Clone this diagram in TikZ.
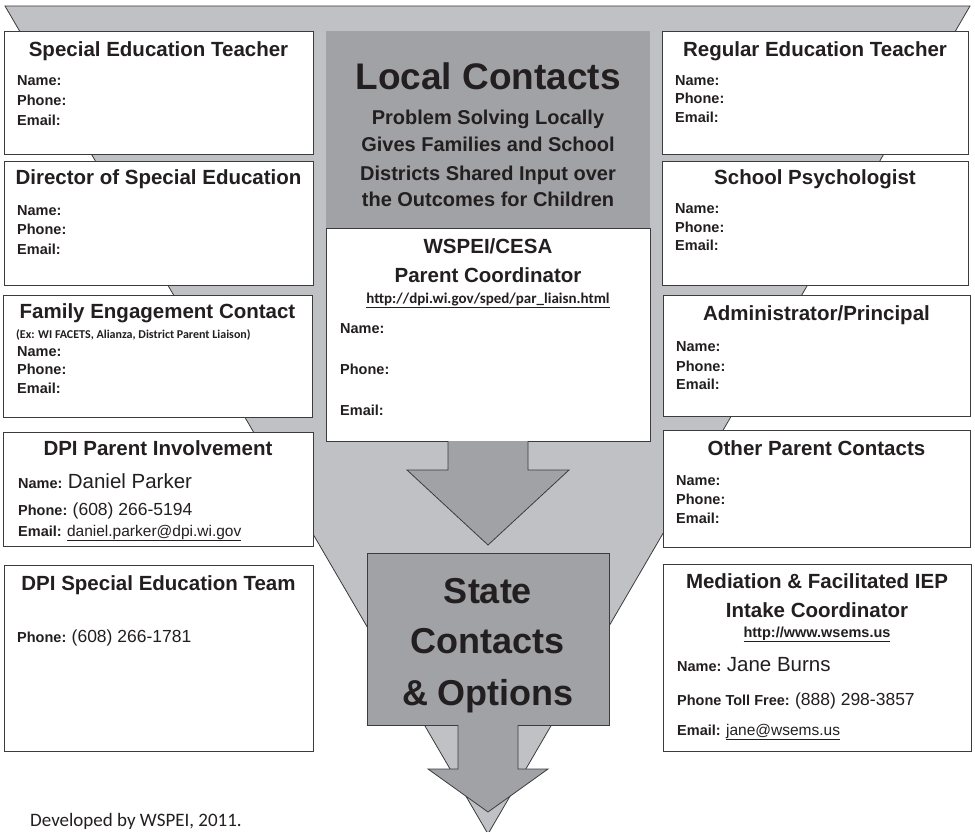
\documentclass[tikz,border=0pt]{standalone}
\usepackage{fontspec}
\setmainfont{Liberation Sans}
\newfontfamily\calibri{Carlito}
\usetikzlibrary{calc}

\definecolor{funnelgray}{RGB}{192,193,196}
\definecolor{localgray}{RGB}{161,162,165}
\definecolor{boxline}{RGB}{60,60,62}
\definecolor{ink}{RGB}{35,31,32}

\newcommand{\nameval}[1]{{\fontsize{20.5}{24}\selectfont\mdseries #1}}
\newcommand{\phoneval}[1]{{\fontsize{17.5}{20}\selectfont\mdseries #1}}
\newcommand{\mailval}[1]{{\fontsize{15.5}{18}\selectfont\mdseries\underline{#1}}}

\begin{document}
\begin{tikzpicture}[x=1pt, y=-1pt]
    % Define styles
    \tikzset{
        funnel/.style={draw=boxline, fill=funnelgray, line width=0.8pt, line join=miter},
        graybox/.style={fill=localgray, anchor=north west, inner sep=0pt, outer sep=0pt},
        contactbox/.style={draw=boxline, fill=white, line width=0.9pt, anchor=north west, inner sep=0pt, outer sep=0pt},
        statebox/.style={draw=boxline, fill=localgray, line width=0.9pt, anchor=north west, inner sep=0pt, outer sep=0pt},
        blockarrow/.style={draw=boxline, fill=localgray, line width=0.8pt, line join=miter},
        boxtitle/.style={anchor=base, inner sep=0pt, text=ink, font=\fontsize{20.5}{24}\selectfont\bfseries},
        fieldlabel/.style={anchor=base west, inner sep=0pt, text=ink, font=\fontsize{14.5}{17}\selectfont\bfseries},
        bigtitle/.style={anchor=base, inner sep=0pt, text=ink, font=\fontsize{37}{40}\selectfont\bfseries},
        statetitle/.style={anchor=base, inner sep=0pt, text=ink, font=\fontsize{36}{40}\selectfont\bfseries},
        subtitle/.style={anchor=base, inner sep=0pt, text=ink, font=\fontsize{20}{24}\selectfont\bfseries},
        weblink/.style={anchor=base, inner sep=0pt, text=ink, font=\calibri\fontsize{15}{18}\selectfont\bfseries},
        smallnote/.style={anchor=base west, inner sep=0pt, text=ink, font=\calibri\fontsize{12}{14}\selectfont\bfseries}
    }
    \useasboundingbox (0,0) rectangle (975,832);

    % Funnel behind everything
    \draw[funnel] (5,6) -- (970,6) -- (488,834) -- cycle;

    % Local contacts header
    \node[graybox, minimum width=324pt, minimum height=197pt] (local) at (326,31) {};
    \node[bigtitle] (localtitle) at (488,90) {Local Contacts};
    \node[subtitle] (localsub1) at (488,125) {Problem Solving Locally};
    \node[subtitle] (localsub2) at (488,152) {Gives Families and School};
    \node[subtitle] (localsub3) at (488,180) {Districts Shared Input over};
    \node[subtitle] (localsub4) at (488,207) {the Outcomes for Children};

    % WSPEI/CESA parent coordinator
    \node[contactbox, minimum width=324pt, minimum height=213pt] (wspei) at (326,228) {};
    \node[boxtitle] (wspeititle1) at (488,253) {WSPEI/CESA};
    \node[boxtitle] (wspeititle2) at (488,282) {Parent Coordinator};
    \node[weblink] (wspeiurl) at (488,303) {\underline{http://dpi.wi.gov/sped/par\_liaisn.html}};
    \node[fieldlabel] (wspeiname) at (340,333) {Name:};
    \node[fieldlabel] (wspeiphone) at (340,374) {Phone:};
    \node[fieldlabel] (wspeimail) at (340,415) {Email:};

    % State contacts and options
    \node[statebox, minimum width=242pt, minimum height=172pt] (state) at (367,553) {};
    \node[statetitle] (statetitle1) at (488,603) {State};
    \node[statetitle] (statetitle2) at (488,653) {Contacts};
    \node[statetitle] (statetitle3) at (488,705) {\&~Options};

    % Block arrows
    \draw[blockarrow] ($(wspei.south)+(-40,0)$) -- ++(0,29) -- ++(-41,0)
        -- ($(state.north)+(0,-8)$) -- ($(wspei.south)+(81,29)$) -- ++(-41,0)
        -- ($(wspei.south)+(40,0)$);
    \draw[blockarrow] ($(state.south)+(-30,0)$) -- ++(0,44) -- ++(-30,0)
        -- ($(state.south)+(0,87)$) -- ($(state.south)+(60,44)$) -- ++(-30,0)
        -- ($(state.south)+(30,0)$);

    % Left column
    \node[contactbox, minimum width=309pt, minimum height=123pt] (setbox) at (4,31) {};
    \node[boxtitle] (settitle) at (158.5,57) {Special Education Teacher};
    \node[fieldlabel] (setname) at (17,86) {Name:};
    \node[fieldlabel] (setphone) at (17,106) {Phone:};
    \node[fieldlabel] (setmail) at (17,126) {Email:};

    \node[contactbox, minimum width=309pt, minimum height=124pt] (dirbox) at (4,161) {};
    \node[boxtitle] (dirtitle) at (158.5,185) {Director of Special Education};
    \node[fieldlabel] (dirname) at (17,215) {Name:};
    \node[fieldlabel] (dirphone) at (17,234) {Phone:};
    \node[fieldlabel] (dirmail) at (17,254) {Email:};

    \node[contactbox, minimum width=309pt, minimum height=122pt] (fambox) at (3,295) {};
    \node[boxtitle] (famtitle) at (157.5,318) {Family Engagement Contact};
    \node[smallnote] (famnote) at (16,338) {(Ex: WI FACETS, Alianza, District Parent Liaison)};
    \node[fieldlabel] (famname) at (17,356) {Name:};
    \node[fieldlabel] (famphone) at (17,374) {Phone:};
    \node[fieldlabel] (fammail) at (17,393) {Email:};

    \node[contactbox, minimum width=310pt, minimum height=114pt] (pibox) at (3,432) {};
    \node[boxtitle] (pititle) at (158,455) {DPI Parent Involvement};
    \node[fieldlabel] (piname) at (18,488) {Name: \nameval{Daniel Parker}};
    \node[fieldlabel] (piphone) at (18,515) {Phone: \phoneval{(608) 266-5194}};
    \node[fieldlabel] (pimail) at (18,536) {Email: \mailval{daniel.parker@dpi.wi.gov}};

    \node[contactbox, minimum width=309pt, minimum height=186pt] (sebox) at (4,565) {};
    \node[boxtitle] (setitle) at (158.5,590) {DPI Special Education Team};
    \node[fieldlabel] (sephone) at (17,642) {Phone: \phoneval{(608) 266-1781}};

    % Right column
    \node[contactbox, minimum width=306pt, minimum height=123pt] (retbox) at (662,31) {};
    \node[boxtitle] (rettitle) at (815,57) {Regular Education Teacher};
    \node[fieldlabel] (retname) at (675,86) {Name:};
    \node[fieldlabel] (retphone) at (675,104) {Phone:};
    \node[fieldlabel] (retmail) at (675,123) {Email:};

    \node[contactbox, minimum width=306pt, minimum height=124pt] (psybox) at (662,161) {};
    \node[boxtitle] (psytitle) at (815,185) {School Psychologist};
    \node[fieldlabel] (psyname) at (675,213) {Name:};
    \node[fieldlabel] (psyphone) at (675,232) {Phone:};
    \node[fieldlabel] (psymail) at (675,250) {Email:};

    \node[contactbox, minimum width=307pt, minimum height=121pt] (admbox) at (663,295) {};
    \node[boxtitle] (admtitle) at (816.5,320) {Administrator/Principal};
    \node[fieldlabel] (admname) at (676,351) {Name:};
    \node[fieldlabel] (admphone) at (676,371) {Phone:};
    \node[fieldlabel] (admmail) at (676,389) {Email:};

    \node[contactbox, minimum width=307pt, minimum height=117pt] (othbox) at (663,430) {};
    \node[boxtitle] (othtitle) at (816.5,455) {Other Parent Contacts};
    \node[fieldlabel] (othname) at (676,485) {Name:};
    \node[fieldlabel] (othphone) at (676,504) {Phone:};
    \node[fieldlabel] (othmail) at (676,523) {Email:};

    \node[contactbox, minimum width=308pt, minimum height=187pt] (medbox) at (663,564) {};
    \node[boxtitle] (medtitle1) at (817,588) {Mediation \& Facilitated IEP};
    \node[boxtitle] (medtitle2) at (817,617) {Intake Coordinator};
    \node[anchor=base, inner sep=0pt, text=ink, font=\fontsize{14.5}{17}\selectfont\bfseries] (medurl) at (817,637) {\underline{http://www.wsems.us}};
    \node[fieldlabel] (medname) at (677,671) {Name: \nameval{Jane Burns}};
    \node[fieldlabel] (medphone) at (677,705) {Phone Toll Free: \phoneval{(888) 298-3857}};
    \node[fieldlabel] (medmail) at (677,735) {Email: \mailval{jane@wsems.us}};

    % Footer
    \node[anchor=base west, inner sep=0pt, text=ink, font=\calibri\fontsize{19}{22}\selectfont] (footer) at (30,826) {Developed by WSPEI, 2011.};

\end{tikzpicture}
\end{document}
